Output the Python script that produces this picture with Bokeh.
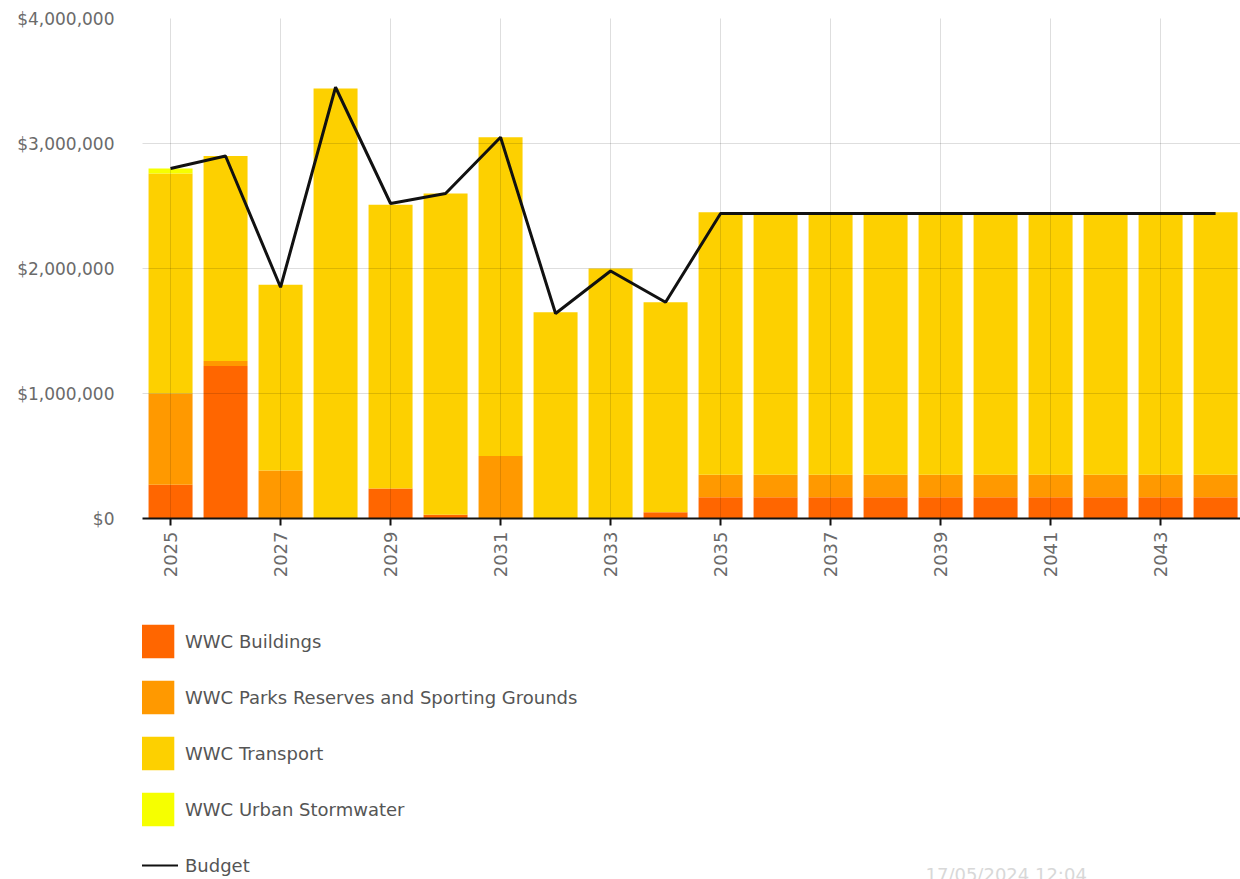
import math
from bokeh.plotting import figure
from bokeh.layouts import column
from bokeh.models import (Range1d, FixedTicker, NumeralTickFormatter, Legend, LegendItem,
                          ColumnDataSource, Label)
from bokeh.embed import file_html
from bokeh.resources import INLINE

years = [2025, 2026, 2027, 2028, 2029, 2030, 2031, 2032, 2033, 2034,
         2035, 2036, 2037, 2038, 2039, 2040, 2041, 2042, 2043, 2044]
buildings = [270000, 1220000, 0, 0, 240000, 30000, 0, 0, 0, 50000,
             170000, 170000, 170000, 170000, 170000, 170000, 170000, 170000, 170000, 170000]
parks = [730000, 40000, 385000, 0, 0, 0, 500000, 0, 0, 0,
         180000, 180000, 180000, 180000, 180000, 180000, 180000, 180000, 180000, 180000]
transport = [1760000, 1640000, 1485000, 3440000, 2270000, 2570000, 2550000, 1650000, 2000000, 1680000,
             2100000, 2100000, 2100000, 2100000, 2100000, 2100000, 2100000, 2100000, 2100000, 2100000]
stormwater = [40000, 0, 0, 0, 0, 0, 0, 0, 0, 0,
              0, 0, 0, 0, 0, 0, 0, 0, 0, 0]
budget = [2800000, 2900000, 1850000, 3450000, 2520000, 2600000, 3050000, 1640000, 1980000, 1730000,
          2440000, 2440000, 2440000, 2440000, 2440000, 2440000, 2440000, 2440000, 2440000, 2440000]

series_names = ["WWC Buildings", "WWC Parks Reserves and Sporting Grounds",
                "WWC Transport", "WWC Urban Stormwater"]
series_keys = ["buildings", "parks", "transport", "stormwater"]
colors = ["#FF6600", "#FF9900", "#FDD000", "#F6FF00"]
y_ticks = [0, 1000000, 2000000, 3000000, 4000000]
x_ticks = [2025, 2027, 2029, 2031, 2033, 2035, 2037, 2039, 2041, 2043]
timestamp = "17/05/2024 12:04"

source = ColumnDataSource(dict(year=years, buildings=buildings, parks=parks,
                               transport=transport, stormwater=stormwater, budget=budget))

FONT = "DejaVu Sans"
BUDGET_COLOR = "#111111"

# ---- main chart ----
p = figure(width=1240, height=600, output_backend="svg", toolbar_location=None,
           x_range=Range1d(2024.49, 2044.453), y_range=Range1d(0, 4000000),
           min_border_left=142, min_border_right=0, min_border_top=18, min_border_bottom=82)
p.outline_line_color = None

bars = p.vbar_stack(series_keys, x="year", width=0.8, source=source,
                    color=colors, line_width=0)
line = p.line("year", "budget", source=source, line_color=BUDGET_COLOR, line_width=3)

p.xgrid.ticker = FixedTicker(ticks=x_ticks)
p.ygrid.ticker = FixedTicker(ticks=y_ticks)
for g in (p.xgrid[0], p.ygrid[0]):
    g.grid_line_color = "#000000"
    g.grid_line_alpha = 0.13
    g.grid_line_width = 1
    g.level = "annotation"

ya = p.yaxis[0]
ya.ticker = FixedTicker(ticks=y_ticks)
ya.formatter = NumeralTickFormatter(format="$0,0")
ya.axis_line_color = None
ya.major_tick_line_color = None
ya.minor_tick_line_color = None
ya.major_label_standoff = 22
ya.major_label_text_font = FONT
ya.major_label_text_font_size = "17px"
ya.major_label_text_color = "#6a6a6a"

xa = p.xaxis[0]
xa.ticker = FixedTicker(ticks=x_ticks)
xa.axis_line_color = BUDGET_COLOR
xa.axis_line_width = 2
xa.major_tick_line_color = BUDGET_COLOR
xa.major_tick_line_width = 2
xa.major_tick_out = 7
xa.major_tick_in = 0
xa.minor_tick_line_color = None
xa.major_label_orientation = math.pi / 2
xa.major_label_standoff = 6
xa.major_label_text_font = FONT
xa.major_label_text_font_size = "18px"
xa.major_label_text_color = "#6a6a6a"

# ---- legend panel (frame is aligned with the chart frame above) ----
lg = figure(width=1240, height=279, output_backend="svg", toolbar_location=None,
            x_range=Range1d(0, 1), y_range=Range1d(0, 1),
            x_axis_location=None, y_axis_location=None,
            min_border_left=0, min_border_right=0, min_border_top=0, min_border_bottom=0)
lg.outline_line_color = None
lg.xgrid.visible = False
lg.ygrid.visible = False

# swatch renderers: one point placed outside the visible range so only the legend shows them
items = []
for n, c in zip(series_names, colors):
    r = lg.vbar(x=[5], top=[5], bottom=[4], width=0.1, color=c, line_width=0)
    items.append(LegendItem(label=n, renderers=[r]))
rl = lg.line(x=[5, 6], y=[5, 5], line_color=BUDGET_COLOR, line_width=2)
items.append(LegendItem(label="Budget", renderers=[rl]))

legend = Legend(items=items, location=(-6, -7), orientation="vertical",
                glyph_width=42, glyph_height=42, label_height=42, spacing=14,
                label_standoff=7, padding=0, margin=0,
                border_line_alpha=0, background_fill_alpha=0,
                label_text_font=FONT, label_text_font_size="18px",
                label_text_color="#555555")
lg.add_layout(legend, "center")

lg.add_layout(Label(x=783, y=16, x_units="screen", y_units="screen", text=timestamp,
                    text_font=FONT, text_font_size="18px", text_color="#d8d8d8",
                    text_baseline="top"))

layout = column(p, lg, spacing=0)
open("out.html", "w").write(file_html(layout, INLINE))
